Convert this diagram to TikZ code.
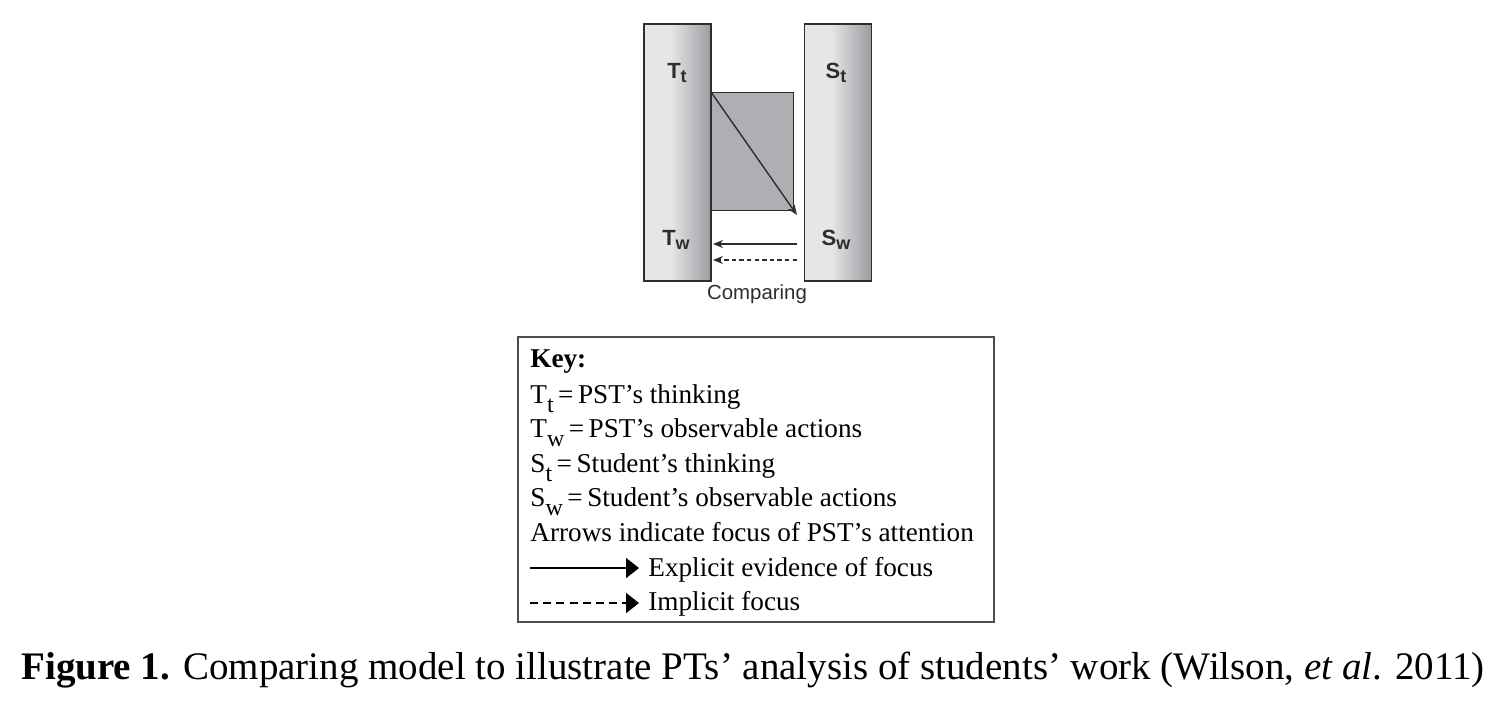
\documentclass[tikz,border=0pt]{standalone}
\usepackage{fontspec}
\setmainfont{Liberation Serif}
\newfontfamily\barfont{Liberation Sans}
\usetikzlibrary{arrows.meta}
\definecolor{barlight}{RGB}{230,230,232}
\definecolor{barmid}{RGB}{155,155,160}
\definecolor{bardeep}{RGB}{95,95,100}
\definecolor{bardark}{RGB}{60,60,64}
\definecolor{boxgray}{RGB}{174,175,179}
\definecolor{inkgray}{RGB}{45,45,45}
\pgfdeclarehorizontalshading{barshade}{100bp}{color(0bp)=(barlight); color(45bp)=(barlight); color(75bp)=(barmid); color(92bp)=(bardeep); color(100bp)=(bardark)}
\tikzset{
  bar/.style={draw=inkgray, line width=0.8pt, shading=barshade, minimum width=33.5pt, minimum height=128.5pt, inner sep=0pt},
  barlabel/.style={font=\barfont\bfseries\fontsize{11}{12}\selectfont, text=inkgray},
  keytext/.style={anchor=base west, inner sep=0pt, font=\fontsize{13.6}{16}\selectfont},
  diagarrow/.style={draw=inkgray, line width=0.7pt, -{Stealth[length=5pt,width=4pt]}},
  keyarrow/.style={line width=0.9pt, -{Triangle[length=6.5pt,width=10pt]}},
}
\newcommand{\subx}[1]{\raisebox{-0.36em}{\fontsize{12}{13}\selectfont #1}}
\newcommand{\bsub}[1]{\raisebox{-0.2em}{\fontsize{9}{10}\selectfont #1}}
\begin{document}
\begin{tikzpicture}[x=0.5pt,y=-0.5pt]
\useasboundingbox (0,0) rectangle (1502,720);
% gray rectangle
\node[draw=inkgray, fill=boxgray, line width=0.6pt, minimum width=41.5pt, minimum height=59pt, inner sep=0pt, anchor=north west] (grect) at (710,92) {};
% bars
\node[bar] (lbar) at (677.5,152.5) {};
\node[bar] (rbar) at (838,152.5) {};
% labels
\node[barlabel] (tt) at (677,73) {T\bsub{t}};
\node[barlabel] (st) at (836,73) {S\bsub{t}};
\node[barlabel] (tw) at (676,240) {T\bsub{w}};
\node[barlabel] (sw) at (836,240) {S\bsub{w}};
\node[font=\barfont\fontsize{10.2}{12}\selectfont, text=inkgray] (cmp) at (757,294) {Comparing};
% connectors
\coordinate (d0) at (711,92);
\coordinate (d1) at (797,215);
\coordinate (a0) at (797,244);
\coordinate (a1) at (713,244);
\coordinate (b0) at (797,260);
\coordinate (b1) at (713,260);
\draw[diagarrow] (d0) -- (d1);
\draw[diagarrow] (a0) -- (a1);
\draw[diagarrow, dashed, dash pattern=on 2.2pt off 1.6pt] (b0) -- (b1);
% key box
\node[draw=black!70, line width=0.8pt, minimum width=238pt, minimum height=142.5pt, inner sep=0pt, anchor=north west] (key) at (517,336) {};
\node[keytext] (k0) at (530,367) {\textbf{Key:}};
\node[keytext] (k1) at (530,403) {T\subx{t}\,=\,PST’s thinking};
\node[keytext] (k2) at (530,437) {T\subx{w}\,=\,PST’s observable actions};
\node[keytext] (k3) at (530,472) {S\subx{t}\,=\,Student’s thinking};
\node[keytext] (k4) at (530,506) {S\subx{w}\,=\,Student’s observable actions};
\node[keytext] (k5) at (530,541) {Arrows indicate focus of PST’s attention};
\node[keytext] (k6) at (648,576) {Explicit evidence of focus};
\node[keytext] (k7) at (648,610) {Implicit focus};
\coordinate (e0) at (530,568);
\coordinate (e1) at (639,568);
\coordinate (i0) at (530,603);
\coordinate (i1) at (639,603);
\draw[keyarrow] (e0) -- (e1);
\draw[keyarrow, dash pattern=on 4pt off 2.6pt] (i0) -- (i1);
% caption
\node[anchor=base west, inner sep=0pt, font=\fontsize{19.5}{23}\selectfont] (cap) at (21,679) {\textbf{Figure 1.} Comparing model to illustrate PTs’ analysis of students’ work (Wilson, \textit{et al}. 2011)};
\end{tikzpicture}
\end{document}
